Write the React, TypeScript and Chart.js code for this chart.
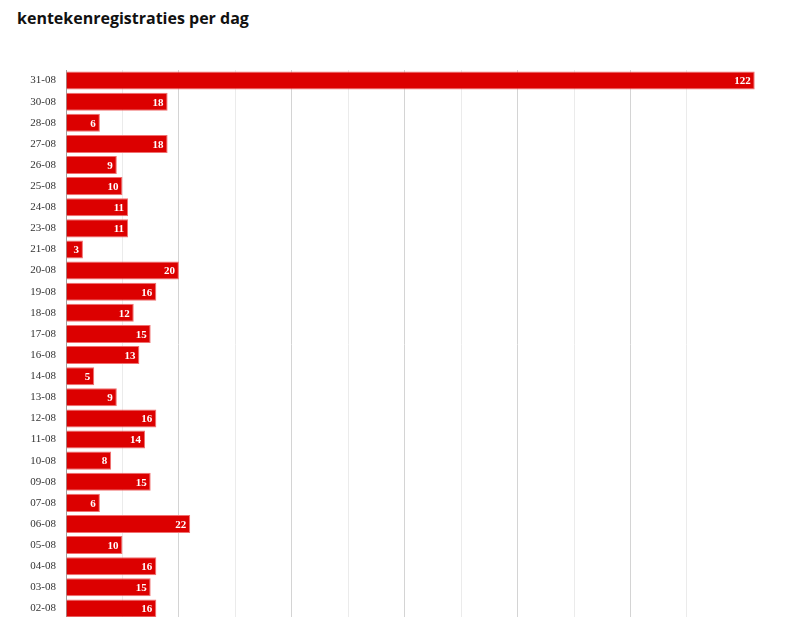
import React, { useEffect, useRef } from 'react';
import { Chart, registerables, Plugin } from 'chart.js';

Chart.register(...registerables);

const dates = [
  '31-08', '30-08', '28-08', '27-08', '26-08', '25-08', '24-08', '23-08', '21-08',
  '20-08', '19-08', '18-08', '17-08', '16-08', '14-08', '13-08', '12-08', '11-08',
  '10-08', '09-08', '07-08', '06-08', '05-08', '04-08', '03-08', '02-08',
];
const registrations = [
  122, 18, 6, 18, 9, 10, 11, 11, 3, 20, 16, 12, 15, 13, 5, 9, 16, 14, 8, 15, 6, 22, 10, 16, 15, 16,
];

// white value inside the end of each bar
const barValueLabels: Plugin<'bar'> = {
  id: 'barValueLabels',
  afterDatasetsDraw(chart) {
    const { ctx } = chart;
    const meta = chart.getDatasetMeta(0);
    ctx.save();
    ctx.font = 'bold 11px "Liberation Serif", "Times New Roman", serif';
    ctx.fillStyle = '#ffffff';
    ctx.textAlign = 'right';
    ctx.textBaseline = 'middle';
    meta.data.forEach((bar, i) => {
      ctx.fillText(String(registrations[i]), bar.x - 4, bar.y + 1);
    });
    ctx.restore();
  },
};

const App: React.FC = () => {
  const canvasRef = useRef<HTMLCanvasElement | null>(null);

  useEffect(() => {
    if (!canvasRef.current) return;
    const chart = new Chart(canvasRef.current, {
      type: 'bar',
      data: {
        labels: dates,
        datasets: [
          {
            label: 'kentekenregistraties',
            data: registrations,
            backgroundColor: '#dc0000',
            borderColor: '#f07070',
            borderWidth: 1,
            barPercentage: 0.9,
            categoryPercentage: 0.95,
          },
        ],
      },
      options: {
        indexAxis: 'y',
        animation: false,
        responsive: true,
        maintainAspectRatio: false,
        layout: { padding: { top: 70, bottom: 21, left: 0, right: 34 } },
        plugins: {
          legend: { display: false },
          tooltip: { enabled: false },
        },
        scales: {
          x: {
            min: 0,
            max: 124,
            ticks: { display: false, stepSize: 10 },
            grid: {
              drawTicks: false,
              color: (c) => {
                const v = c.tick ? c.tick.value : 0;
                if (v % 10 !== 0) return 'rgba(0,0,0,0)';
                return v % 20 === 0 ? '#d4d4d4' : '#ebebeb';
              },
            },
            border: { display: false },
          },
          y: {
            afterFit: (scale) => {
              scale.width = 66;
            },
            ticks: {
              color: '#333',
              padding: 10,
              font: { family: '"Liberation Serif", "Times New Roman", serif', size: 11 },
            },
            grid: { display: false, drawTicks: false },
            border: { display: true, color: '#a0a0a0', width: 1 },
          },
        },
      },
      plugins: [barValueLabels],
    });
    return () => chart.destroy();
  }, []);

  return (
    <div style={{ position: 'fixed', left: 0, top: 0, width: 800, height: 617, overflow: 'hidden', background: '#fff' }}>
      <div
        style={{
          position: 'absolute',
          left: 17,
          top: 7,
          fontFamily: '"Open Sans", sans-serif',
          fontWeight: 700,
          fontSize: 16,
          color: '#111',
          whiteSpace: 'nowrap',
        }}
      >
        kentekenregistraties per dag
      </div>
      <div style={{ position: 'absolute', left: 0, top: 0, width: 800, height: 640 }}>
        <canvas ref={canvasRef} />
      </div>
    </div>
  );
};

export default App;
